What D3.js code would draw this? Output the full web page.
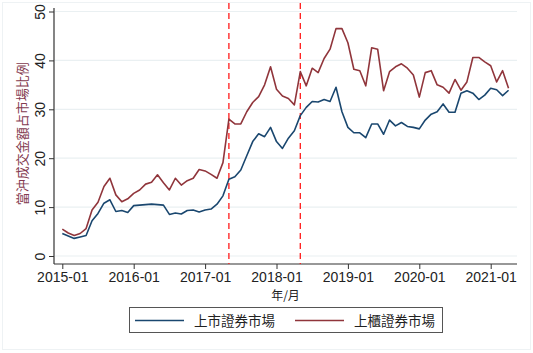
<!DOCTYPE html>
<html>
<head>
<meta charset="utf-8">
<script src="https://cdn.jsdelivr.net/npm/d3@7"></script>
<style>
  body { margin: 0; background: #fff; }
  svg { display: block; font-family: "Liberation Sans", Arial, "Noto Sans CJK TC", sans-serif; }
</style>
</head>
<body>
<svg width="533" height="353"></svg>
<script>
// monthly data, 2015-01 .. 2021-04
const startYear = 2015;
const listed = [4.6, 4.1, 3.6, 3.9, 4.2, 7.2, 8.7, 10.8, 11.5, 9.1, 9.3, 8.9,
  10.3, 10.4, 10.5, 10.6, 10.5, 10.4, 8.5, 8.8, 8.6, 9.3, 9.4, 9.0,
  9.4, 9.6, 10.6, 12.3, 15.7, 16.2, 17.6, 20.5, 23.4, 25.0, 24.4, 26.3,
  23.4, 22.0, 24.1, 25.6, 28.7, 30.4, 31.6, 31.5, 32.0, 31.6, 34.5, 29.5,
  26.3, 25.2, 25.2, 24.2, 27.0, 27.0, 24.9, 27.8, 26.6, 27.3, 26.5, 26.3,
  26.0, 27.8, 29.0, 29.5, 31.1, 29.4, 29.4, 33.3, 33.8, 33.3, 32.0, 32.9,
  34.3, 34.0, 32.8, 33.9];
const otc = [5.5, 4.7, 4.2, 4.6, 5.6, 9.4, 11.0, 14.2, 15.9, 12.5, 11.1, 11.7,
  12.8, 13.5, 14.7, 15.1, 16.6, 15.0, 13.5, 15.9, 14.5, 15.4, 15.9, 17.7,
  17.4, 16.7, 15.9, 19.1, 28.0, 27.0, 27.0, 29.5, 31.4, 32.6, 35.0, 38.7,
  34.1, 32.7, 32.2, 30.9, 37.7, 34.8, 38.4, 37.5, 40.4, 42.3, 46.5, 46.5,
  43.6, 38.2, 37.9, 34.8, 42.6, 42.3, 33.8, 37.7, 38.7, 39.3, 38.4, 37.0,
  32.5, 37.5, 37.9, 35.0, 34.5, 33.3, 36.1, 33.9, 35.6, 40.6, 40.6, 39.7,
  38.9, 35.6, 37.9, 34.3];
const xTickLabels = ['2015-01', '2016-01', '2017-01', '2018-01', '2019-01', '2020-01', '2021-01'];
const yTicks = [0, 10, 20, 30, 40, 50];
const eventMonths = ['2017-05', '2018-05'];
const seriesNames = ['上市證券市場', '上櫃證券市場'];

const monthIndex = s => (+s.slice(0, 4) - startYear) * 12 + (+s.slice(5, 7) - 1);

const svg = d3.select('svg');
const blue = '#1a476f', red = '#90353b';
const pLeft = 54, pRight = 517, pBottom = 264, pTop = 3;

const x = d3.scaleLinear().domain([0, 72]).range([62.3, 490.7]);
const y = d3.scaleLinear().domain([0, 50]).range([256, 11.5]);

// faint outer frame
svg.append('rect').attr('x', 2.5).attr('y', 2.5).attr('width', 528).attr('height', 347)
  .attr('fill', 'none').attr('stroke', '#eef2f4');

// grid
svg.append('g').selectAll('line').data(yTicks).join('line')
  .attr('x1', pLeft + 1).attr('x2', pRight)
  .attr('y1', d => y(d)).attr('y2', d => y(d))
  .attr('stroke', '#eaf0f2').attr('stroke-width', 1.2);

// y axis
const yAxis = svg.append('g').attr('transform', `translate(${pLeft},0)`)
  .call(d3.axisLeft(y).tickValues(yTicks).tickSize(5).tickPadding(0));
yAxis.select('.domain').attr('d', `M0,${pTop + 5}V${pBottom}`).attr('stroke', '#333').attr('stroke-width', 1.2);
yAxis.selectAll('.tick line').attr('stroke', '#333');
yAxis.selectAll('.tick text')
  .attr('font-size', 14).attr('fill', '#222').attr('text-anchor', 'middle')
  .attr('x', 0).attr('dy', 0)
  .attr('transform', 'translate(-9,0) rotate(-90)');

// x axis
const xAxis = svg.append('g').attr('transform', `translate(0,${pBottom})`)
  .call(d3.axisBottom(x).tickValues(d3.range(0, 73, 12))
    .tickFormat((d, i) => xTickLabels[i]).tickSize(5).tickPadding(3));
xAxis.select('.domain').attr('d', `M${pLeft},0H${pRight}`).attr('stroke', '#333').attr('stroke-width', 1.2);
xAxis.selectAll('.tick line').attr('stroke', '#333');
xAxis.selectAll('.tick text').attr('font-size', 14).attr('fill', '#222');

// axis titles
svg.append('text').attr('x', (pLeft + pRight) / 2).attr('y', 300)
  .attr('text-anchor', 'middle').attr('font-size', 12).attr('fill', '#222')
  .attr('font-family', '"Noto Sans CJK TC", sans-serif').text('年/月');
svg.append('text').attr('transform', `translate(27,${(y(0) + y(50)) / 2}) rotate(-90)`)
  .attr('text-anchor', 'middle').attr('font-size', 13).attr('fill', '#843b50')
  .attr('font-family', '"Noto Sans CJK TC", sans-serif').text('當沖成交金額占市場比例');

// event lines
svg.append('g').selectAll('line').data(eventMonths).join('line')
  .attr('x1', d => x(monthIndex(d))).attr('x2', d => x(monthIndex(d)))
  .attr('y1', pTop).attr('y2', pBottom)
  .attr('stroke', '#ff1a1a').attr('stroke-width', 1.3).attr('stroke-dasharray', '6,4');

// series
const line = d3.line().x((d, i) => x(i)).y(d => y(d));
[[listed, blue], [otc, red]].forEach(([data, color]) => {
  svg.append('path').datum(data).attr('d', line)
    .attr('fill', 'none').attr('stroke', color).attr('stroke-width', 1.6)
    .attr('stroke-linejoin', 'round');
});

// legend
const lg = svg.append('g');
lg.append('rect').attr('x', 129.5).attr('y', 307.5).attr('width', 313).attr('height', 25)
  .attr('fill', '#fff').attr('stroke', '#555').attr('stroke-width', 1);
const items = [[seriesNames[0], blue, 135], [seriesNames[1], red, 295]];
items.forEach(([name, color, lx]) => {
  lg.append('line').attr('x1', lx).attr('x2', lx + 49).attr('y1', 320.5).attr('y2', 320.5)
    .attr('stroke', color).attr('stroke-width', 1.6);
  lg.append('text').attr('x', lx + 59).attr('y', 325.5).attr('font-size', 13.5).attr('fill', '#222')
    .attr('font-family', '"Noto Sans CJK TC", sans-serif').text(name);
});
</script>
</body>
</html>
